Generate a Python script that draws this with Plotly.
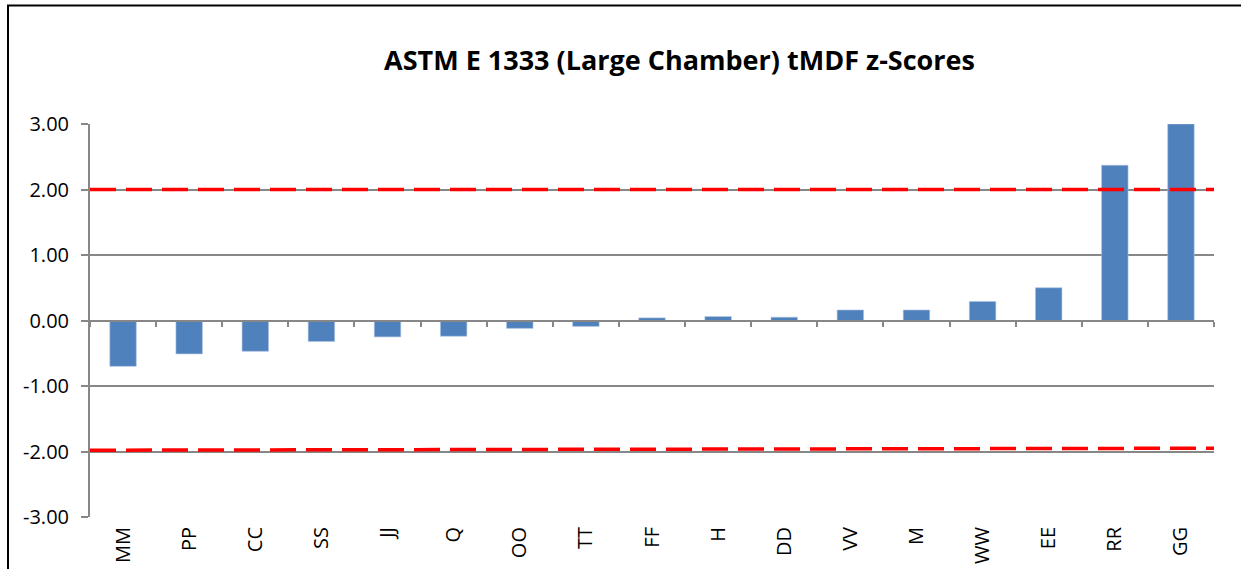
import plotly.graph_objects as go

categories = ["MM", "PP", "CC", "SS", "JJ", "Q", "OO", "TT", "FF", "H",
              "DD", "VV", "M", "WW", "EE", "RR", "GG"]
zscores = [-0.70, -0.51, -0.47, -0.32, -0.25, -0.24, -0.12, -0.09, 0.04, 0.06,
           0.05, 0.16, 0.16, 0.29, 0.50, 2.37, 3.00]
limit_ends = [-0.5, len(categories) - 0.5]
upper_limit = [2.00, 2.00]
lower_limit = [-1.98, -1.95]
y_ticks = [-3, -2, -1, 0, 1, 2, 3]
y_tick_text = ["-3.00", "-2.00", "-1.00", "0.00", "1.00", "2.00", "3.00"]

FONT = "Open Sans"
GRAY = "#878787"

W, H = 1241, 569
L, T, R = 90, 124, 27
B = H - 517
PW = W - L - R
PH = H - T - B

fig = go.Figure()
fig.add_trace(go.Bar(
    x=categories, y=zscores, marker=dict(color="#4F81BD", line=dict(color="#A9C1E0", width=0.6)),
    xaxis="x", yaxis="y", showlegend=False, hoverinfo="x+y"))
for lim in (upper_limit, lower_limit):
    fig.add_trace(go.Scatter(
        x=limit_ends, y=lim, mode="lines", xaxis="x2", yaxis="y",
        line=dict(color="#FF0000", width=3.5, dash="26px,10px"), showlegend=False, hoverinfo="skip"))

fig.update_layout(
    width=W, height=H,
    margin=dict(l=L, r=R, t=T, b=B, autoexpand=False),
    paper_bgcolor="white", plot_bgcolor="white",
    font=dict(family=FONT, size=20, color="black"),
    title=dict(text="<b>ASTM E 1333 (Large Chamber) tMDF z-Scores</b>",
               x=679.5 / W, xanchor="center", y=1 - 61 / H, yanchor="middle",
               font=dict(family=FONT, size=27, color="black")),
    bargap=0.6,
    xaxis=dict(type="category", categoryorder="array", categoryarray=categories,
               range=[-0.5, len(categories) - 0.5], anchor="free", position=0.5,
               showline=True, linecolor=GRAY, linewidth=2, ticks="outside", tickson="boundaries",
               ticklen=5, tickcolor=GRAY, tickwidth=1.5, showticklabels=False, showgrid=False,
               zeroline=False, automargin=False),
    xaxis2=dict(overlaying="x", anchor="y", side="bottom", range=[-0.5, len(categories) - 0.5],
                tickmode="array", tickvals=list(range(len(categories))), ticktext=categories,
                tickangle=-90, showline=False, ticks="", showgrid=False, zeroline=False,
                automargin=False, ticklabelstandoff=5, tickfont=dict(family=FONT, size=20)),
    yaxis=dict(range=[-3, 3], tickmode="array", tickvals=y_ticks, ticktext=y_tick_text,
               showgrid=True, gridcolor=GRAY, gridwidth=1.5, showline=True, linecolor=GRAY,
               linewidth=2, ticks="outside", ticklen=7, tickcolor=GRAY, tickwidth=1.5,
               zeroline=False, automargin=False, ticklabelstandoff=8,
               tickfont=dict(family=FONT, size=20)),
    shapes=[dict(type="rect", xref="paper", yref="paper",
                 x0=(8 - L) / PW, x1=(1250 - L) / PW,
                 y0=-0.5, y1=(T + PH - 5.5) / PH,
                 line=dict(color="black", width=2), fillcolor="rgba(0,0,0,0)", layer="below")],
)

fig.write_html("out.html", config={"displayModeBar": False},
               post_script="document.body.style.margin='0';")
